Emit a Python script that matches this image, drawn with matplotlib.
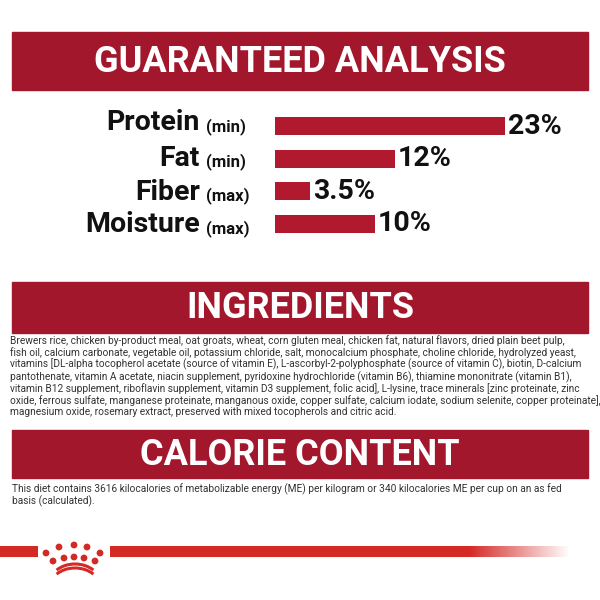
import matplotlib.pyplot as plt
import numpy as np
from matplotlib.patches import Rectangle, Circle, Arc
from matplotlib.colors import LinearSegmentedColormap

nutrients = ["Protein", "Fat", "Fiber", "Moisture"]
qualifiers = ["(min)", "(min)", "(max)", "(max)"]
values = [23, 12, 3.5, 10]
value_labels = ["23%", "12%", "3.5%", "10%"]

ingredients = ("Brewers rice, chicken by-product meal, oat groats, wheat, corn gluten meal, chicken fat, natural flavors, dried plain beet pulp,\n"
"fish oil, calcium carbonate, vegetable oil, potassium chloride, salt, monocalcium phosphate, choline chloride, hydrolyzed yeast,\n"
"vitamins [DL-alpha tocopherol acetate (source of vitamin E), L-ascorbyl-2-polyphosphate (source of vitamin C), biotin, D-calcium\n"
"pantothenate, vitamin A acetate, niacin supplement, pyridoxine hydrochloride (vitamin B6), thiamine mononitrate (vitamin B1),\n"
"vitamin B12 supplement, riboflavin supplement, vitamin D3 supplement, folic acid], L-lysine, trace minerals [zinc proteinate, zinc\n"
"oxide, ferrous sulfate, manganese proteinate, manganous oxide, copper sulfate, calcium iodate, sodium selenite, copper proteinate],\n"
"magnesium oxide, rosemary extract, preserved with mixed tocopherols and citric acid.")
calorie = ("This diet contains 3616 kilocalories of metabolizable energy (ME) per kilogram or 340 kilocalories ME per cup on an as fed\n"
"basis (calculated).")

DARK = "#A3172D"
BAR = "#B0192E"
BRIGHT = "#D42A26"

fig = plt.figure(figsize=(6, 6), dpi=100)
ax = fig.add_axes([0, 0, 1, 1])
ax.set_xlim(0, 600); ax.set_ylim(600, 0); ax.axis("off")

def banner(y0, y1, text):
    ax.add_patch(Rectangle((12, y0), 576, y1 - y0, color=DARK))
    ax.text(300, (y0 + y1) / 2 + 1, text, color="white", fontsize=26, fontweight="bold",
            family="Roboto", ha="center", va="center")

banner(32, 90, "GUARANTEED ANALYSIS")
banner(282, 333, "INGREDIENTS")
banner(430, 478, "CALORIE CONTENT")

# bars
bx = fig.add_axes([275/600, 1 - 240/600, 300/600, 130/600])
bx.set_xlim(0, 30); bx.set_ylim(3.5, -0.5); bx.axis("off")
ypos = np.arange(len(values))
bx.barh(ypos, values, height=0.55, color=BAR)
for y, v, lab in zip(ypos, values, value_labels):
    bx.text(v + 0.3, y, lab, fontsize=20.5, fontweight="bold", family="Roboto", va="center", color="#111")

rows_y = [123, 158, 192, 225]
for yy, n, q in zip(rows_y, nutrients, qualifiers):
    ax.text(206, yy + 4, q, fontsize=12, fontweight="bold", family="Roboto", ha="left", va="center", color="#111")
    ax.text(200, yy, n, fontsize=20.5, fontweight="bold", family="Roboto", ha="right", va="center", color="#111")

ax.text(10, 335, ingredients, fontsize=7.25, family="Roboto", va="top", ha="left",
        color="#333", linespacing=1.1)
ax.text(12, 483, calorie, fontsize=7.25, family="Roboto", va="top", ha="left",
        color="#333", linespacing=1.1)

# bottom line with fade
ax.add_patch(Rectangle((0, 546), 38, 11, color=BRIGHT, lw=0))
ax.add_patch(Rectangle((110, 546), 360, 11, color=BRIGHT, lw=0))
cmap = LinearSegmentedColormap.from_list("fade", [BRIGHT, "#ffffff"])
ax.imshow(np.linspace(0, 1, 100)[None, :], cmap=cmap, extent=(469, 570, 557, 546), aspect="auto")
ax.set_xlim(0, 600); ax.set_ylim(600, 0)
# crown
for cx, cy in [(47, 553), (60, 547), (75, 545), (88, 547), (101, 553),
               (54, 561), (65, 558), (75, 557), (85, 558), (96, 561)]:
    ax.add_patch(Circle((cx - 1, cy), 3.4, color=BRIGHT, lw=0))
ax.add_patch(Arc((75, 583), 50, 38, theta1=215, theta2=325, color=BRIGHT, lw=2.2))
ax.add_patch(Arc((75, 587), 50, 38, theta1=215, theta2=325, color=BRIGHT, lw=2.2))

fig.savefig("out.png", dpi=100, facecolor="white")
